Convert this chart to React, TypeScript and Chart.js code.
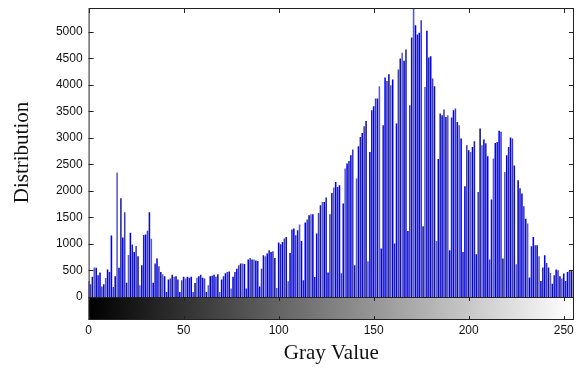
import React, { useEffect, useRef } from "react";
import { Chart, registerables } from "chart.js";

Chart.register(...registerables);

// Histogram counts for gray levels 0..255
const grayCounts = [
  300, 240, 380, 555, 550, 410, 460, 200, 240, 360, 520, 470, 1160, 190, 390, 2350,
  550, 1860, 1120, 1600, 270, 790, 1210, 990, 850, 960, 770, 220, 600, 1170, 1180, 1250,
  1600, 1100, 270, 630, 725, 580, 470, 430, 390, 95, 330, 350, 420, 380, 390, 330,
  95, 315, 380, 350, 380, 365, 380, 95, 265, 365, 390, 420, 365, 350, 95, 220,
  390, 400, 420, 380, 430, 95, 330, 390, 450, 470, 480, 160, 380, 470, 535, 600,
  630, 630, 620, 160, 705, 735, 705, 705, 690, 680, 200, 535, 787, 768, 820, 880,
  850, 862, 736, 170, 1026, 994, 1038, 1101, 1132, 296, 830, 1271, 1290, 1164, 1258, 1366,
  1057, 315, 1403, 1460, 1541, 1560, 1560, 377, 1196, 1585, 1730, 1793, 1793, 1875, 460, 1560,
  1962, 2064, 2170, 2075, 2107, 450, 1762, 2422, 2517, 2566, 2673, 2781, 598, 2234, 2843, 3019,
  3094, 3220, 3321, 673, 2736, 3523, 3598, 3743, 3743, 3975, 913, 3240, 4140, 4075, 4202, 3994,
  4100, 1007, 3271, 4290, 4498, 4604, 4453, 4668, 1245, 3617, 4894, 5460, 5126, 4951, 4981, 5221,
  1334, 3962, 5019, 4517, 4541, 4121, 3975, 1057, 2604, 3460, 3428, 3535, 3396, 3428, 881, 3384,
  3523, 3554, 3300, 3240, 2987, 849, 2089, 2862, 2768, 2736, 2830, 2938, 806, 1981, 3177, 2862,
  2970, 2900, 2655, 705, 1838, 2611, 2906, 2925, 3133, 3114, 724, 2358, 2673, 2830, 3007, 2987,
  2480, 617, 2201, 2050, 1950, 1711, 1478, 1384, 366, 956, 1132, 975, 975, 767, 302, 554,
  786, 641, 554, 453, 252, 409, 517, 504, 390, 347, 441, 300, 472, 491, 504, 480,
];

const xTickValues = [0, 50, 100, 150, 200, 250];
const yTickValues = [0, 500, 1000, 1500, 2000, 2500, 3000, 3500, 4000, 4500, 5000];

const X_MIN = 0;
const X_MAX = 255.4;
const Y_MIN = 0;
const Y_MAX = 5450;

const xTitle = "Gray Value";
const yTitle = "Distribution";

const stemColors = ["#0000ff", "#3c3cb8", "#10109a", "#5a5ac8", "#0000e8", "#2222a8"];

const COLORBAR_H = 23;
const TEXT_COLOR = "#111";

const framePlugin = {
  id: "matlabFrame",
  afterDraw(chart: any) {
    const { ctx, chartArea: a, scales } = chart;
    const xs = scales.x;
    const ys = scales.y;
    ctx.save();
    const g = ctx.createLinearGradient(a.left, 0, a.right, 0);
    g.addColorStop(0, "#000000");
    g.addColorStop(1, "#ffffff");
    ctx.fillStyle = g;
    ctx.fillRect(a.left, a.bottom, a.right - a.left, COLORBAR_H);
    ctx.strokeStyle = "#222";
    ctx.lineWidth = 1;
    ctx.strokeRect(a.left + 0.5, a.bottom + 0.5, a.right - a.left - 1, COLORBAR_H - 1);
    ctx.strokeRect(a.left + 0.5, a.top + 0.5, a.right - a.left - 1, a.bottom - a.top);
    const tl = 5;
    ctx.beginPath();
    xTickValues.forEach((v) => {
      const px = Math.round(xs.getPixelForValue(v)) + 0.5;
      ctx.moveTo(px, a.top);
      ctx.lineTo(px, a.top + tl);
      ctx.moveTo(px, a.bottom + COLORBAR_H);
      ctx.lineTo(px, a.bottom + COLORBAR_H - 4);
      ctx.moveTo(px, a.bottom);
      ctx.lineTo(px, a.bottom + 4);
    });
    yTickValues.forEach((v) => {
      const py = Math.round(ys.getPixelForValue(v)) + 0.5;
      ctx.moveTo(a.left, py);
      ctx.lineTo(a.left + tl, py);
      ctx.moveTo(a.right, py);
      ctx.lineTo(a.right - tl, py);
    });
    ctx.stroke();
    ctx.restore();
  },
};

export default function App() {
  const canvasRef = useRef<HTMLCanvasElement | null>(null);

  useEffect(() => {
    if (!canvasRef.current) return;
    const chart = new Chart(canvasRef.current, {
      type: "bar",
      data: {
        datasets: [
          {
            data: grayCounts.map((c, i) => ({ x: i, y: c })),
            backgroundColor: (c: any) => stemColors[c.dataIndex % stemColors.length],
            borderWidth: 0,
            barPercentage: 0.82,
            categoryPercentage: 1,
          } as any,
        ],
      },
      options: {
        animation: false,
        responsive: false,
        maintainAspectRatio: false,
        layout: { padding: { top: 8, right: 5, left: 0, bottom: 0 } },
        plugins: { legend: { display: false }, tooltip: { enabled: false } },
        scales: {
          x: {
            type: "linear",
            min: X_MIN,
            max: X_MAX,
            offset: false,
            grid: { display: false, drawTicks: false },
            border: { display: false },
            afterBuildTicks: (s: any) => {
              s.ticks = xTickValues.map((v) => ({ value: v }));
            },
            afterFit: (s: any) => {
              s.height = 77;
              s.paddingLeft = 0;
              s.paddingRight = 0;
            },
            ticks: {
              padding: 26,
              color: TEXT_COLOR,
              autoSkip: false,
              maxRotation: 0,
              callback: (v: any) => String(v),
              font: { family: "'Liberation Sans', Arial, sans-serif", size: 12 },
            },
            title: {
              display: true,
              text: xTitle,
              color: TEXT_COLOR,
              font: { family: "'Liberation Serif', 'Times New Roman', serif", size: 21 },
              padding: { top: 0, bottom: 8 },
            },
          } as any,
          y: {
            min: Y_MIN,
            max: Y_MAX,
            grid: { display: false, drawTicks: false },
            border: { display: false },
            afterBuildTicks: (s: any) => {
              s.ticks = yTickValues.map((v) => ({ value: v }));
            },
            afterFit: (s: any) => {
              s.width = 88.6;
              s.paddingTop = 0;
              s.paddingBottom = 0;
            },
            ticks: {
              padding: 6,
              color: TEXT_COLOR,
              autoSkip: false,
              callback: (v: any) => String(v),
              font: { family: "'Liberation Sans', Arial, sans-serif", size: 12 },
            },
            title: {
              display: true,
              text: yTitle,
              color: TEXT_COLOR,
              font: { family: "'Liberation Serif', 'Times New Roman', serif", size: 21 },
              padding: { top: 10, bottom: 0 },
            },
          } as any,
        },
      },
      plugins: [framePlugin],
    });
    return () => chart.destroy();
  }, []);

  return (
    <div style={{ position: "absolute", left: 0, top: 0, width: 579, height: 374, background: "#fff" }}>
      <canvas ref={canvasRef} width={579} height={374} style={{ display: "block" }} />
    </div>
  );
}
